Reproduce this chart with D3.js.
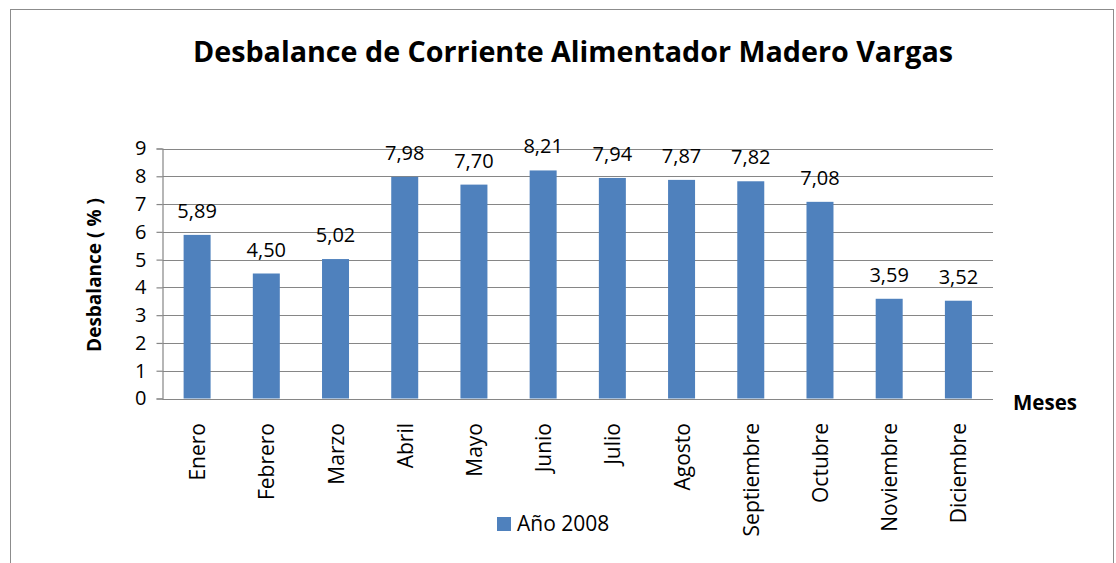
<!DOCTYPE html>
<html>
<head>
<meta charset="utf-8">
<script src="https://cdn.jsdelivr.net/npm/d3@7"></script>
<style>
  body { margin: 0; background: #fff; }
  text { font-family: "Open Sans", sans-serif; fill: #000; }
</style>
</head>
<body>
<div id="chart"></div>
<script>
// data
var months = ["Enero", "Febrero", "Marzo", "Abril", "Mayo", "Junio", "Julio",
              "Agosto", "Septiembre", "Octubre", "Noviembre", "Diciembre"];
var values2008 = [5.89, 4.50, 5.02, 7.98, 7.70, 8.21, 7.94, 7.87, 7.82, 7.08, 3.59, 3.52];
var yTicks = [0, 1, 2, 3, 4, 5, 6, 7, 8, 9];
var seriesName = "Año 2008";

var width = 1116, height = 563;
var plot = { left: 162.5, right: 993, top: 148.5, bottom: 398.5 };

var svg = d3.select("#chart").append("svg")
    .attr("width", width)
    .attr("height", height);

// outer frame
svg.append("rect")
    .attr("x", 10.5).attr("y", 9.5)
    .attr("width", 1103).attr("height", 600)
    .attr("fill", "none")
    .attr("stroke", "#8c8c8c")
    .attr("stroke-width", 1);

var x = d3.scaleBand()
    .domain(months)
    .range([plot.left, plot.right])
    .paddingInner(0.61)
    .paddingOuter(0.305);

var y = d3.scaleLinear()
    .domain([0, 9])
    .range([plot.bottom, plot.top]);

// grid lines
svg.append("g")
  .selectAll("line")
  .data(yTicks)
  .join("line")
    .attr("x1", plot.left).attr("x2", plot.right)
    .attr("y1", function(d) { return Math.round(y(d)) + 0.5; })
    .attr("y2", function(d) { return Math.round(y(d)) + 0.5; })
    .attr("stroke", "#868686")
    .attr("stroke-width", 1.2);

// y axis
var yAxis = svg.append("g")
    .attr("transform", "translate(" + plot.left + ",0)")
    .call(d3.axisLeft(y).tickValues(yTicks).tickSize(6).tickPadding(10).tickFormat(d3.format("d")));
yAxis.select(".domain").attr("stroke", "#868686").attr("stroke-width", 1.2);
yAxis.selectAll(".tick line").attr("stroke", "#868686").attr("stroke-width", 1.2);
yAxis.selectAll(".tick text")
    .style("font-family", '"Open Sans", sans-serif')
    .style("font-size", "20px")
    .attr("fill", "#000");

// bars
svg.append("g")
  .selectAll("rect")
  .data(values2008)
  .join("rect")
    .attr("x", function(d, i) { return x(months[i]); })
    .attr("y", function(d) { return y(d); })
    .attr("width", x.bandwidth())
    .attr("height", function(d) { return y(0) - y(d); })
    .attr("fill", "#4F81BD");

// value labels
svg.append("g")
  .selectAll("text")
  .data(values2008)
  .join("text")
    .attr("x", function(d, i) { return x(months[i]) + x.bandwidth() / 2; })
    .attr("y", function(d) { return y(d) - 17; })
    .attr("text-anchor", "middle")
    .style("font-size", "20px")
    .text(function(d) { return d.toFixed(2).replace(".", ","); });

// month labels (rotated)
svg.append("g")
  .selectAll("text")
  .data(months)
  .join("text")
    .attr("transform", function(d) {
      return "translate(" + (x(d) + x.bandwidth() / 2 + 8) + ",423) rotate(-90)";
    })
    .attr("text-anchor", "end")
    .style("font-size", "21px")
    .text(function(d) { return d; });

// bar axis baseline
svg.append("line")
    .attr("x1", plot.left).attr("x2", plot.right)
    .attr("y1", Math.round(y(0)) + 0.5).attr("y2", Math.round(y(0)) + 0.5)
    .attr("stroke", "#868686")
    .attr("stroke-width", 1.2);

// title
svg.append("text")
    .attr("x", 573).attr("y", 62)
    .attr("text-anchor", "middle")
    .style("font-size", "28.7px")
    .style("font-weight", "bold")
    .text("Desbalance de Corriente Alimentador Madero Vargas");

// axis titles
svg.append("text")
    .attr("transform", "translate(101,275) rotate(-90)")
    .attr("text-anchor", "middle")
    .style("font-size", "19px")
    .style("font-weight", "bold")
    .text("Desbalance ( % )");

svg.append("text")
    .attr("x", 1013).attr("y", 410)
    .style("font-size", "20.5px")
    .style("font-weight", "bold")
    .text("Meses");

// legend
var legend = svg.append("g").attr("transform", "translate(497,517)");
legend.append("rect")
    .attr("width", 14).attr("height", 14)
    .attr("fill", "#4F81BD");
legend.append("text")
    .attr("x", 20).attr("y", 14)
    .style("font-size", "21px")
    .text(seriesName);
</script>
</body>
</html>
